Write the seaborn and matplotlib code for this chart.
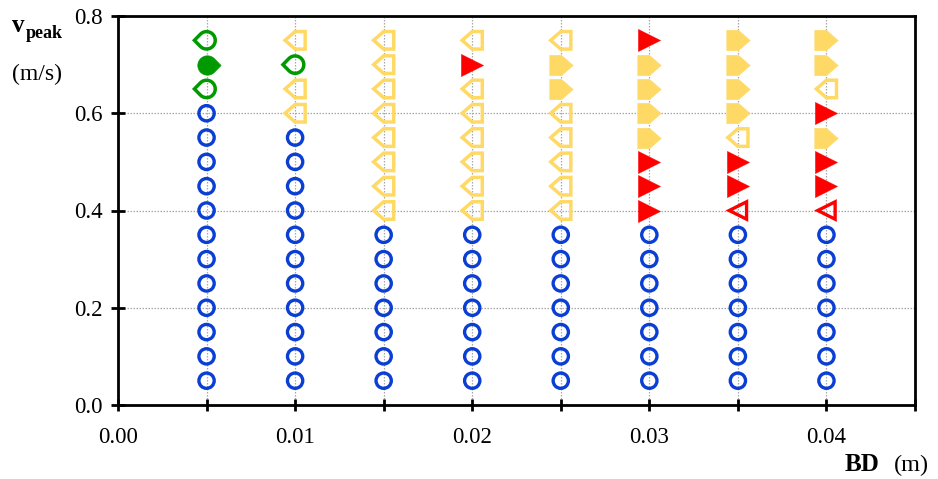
import numpy as np
import pandas as pd
import matplotlib
matplotlib.use("Agg")
import matplotlib.pyplot as plt
from matplotlib.path import Path
import seaborn as sns

# ---- data -----------------------------------------------------------------
bd_values = [0.005, 0.010, 0.015, 0.020, 0.025, 0.030, 0.035, 0.040]
vpeak_values = [0.05, 0.10, 0.15, 0.20, 0.25, 0.30, 0.35, 0.40,
                0.45, 0.50, 0.55, 0.60, 0.65, 0.70, 0.75]

# response class for each v_peak (bottom -> top), one string per BD column
#   o: blue ring, g/G: green open/filled drop, y/Y: yellow open/filled arrow,
#   r/R: red open/filled triangle
response_codes = [
    "oooooooooooogGg",
    "oooooooooooyygy",
    "oooooooyyyyyyyy",
    "oooooooyyyyyyRy",
    "oooooooyyyyyYYy",
    "oooooooRRRYYYYR",
    "ooooooorRRyYYYY",
    "ooooooorRRYRyYY",
]

x_ticks = [0.000, 0.005, 0.010, 0.015, 0.020, 0.025, 0.030, 0.035, 0.040, 0.045]
x_tick_labels = ["0.00", "", "0.01", "", "0.02", "", "0.03", "", "0.04", ""]
y_ticks = [0.0, 0.2, 0.4, 0.6, 0.8]
y_tick_labels = ["0.0", "0.2", "0.4", "0.6", "0.8"]

# ---- marker shapes ---------------------------------------------------------
def drop_path(direction):
    """Circle with a pointed tip; direction -1 points left, +1 right."""
    d = 1.4
    a = np.arccos(1.0 / d)
    ang = np.linspace(np.pi - a, -(np.pi - a), 80)
    pts = [(-d, 0.0)] + list(zip(np.cos(ang), np.sin(ang))) + [(-d, 0.0)]
    pts = np.array(pts)
    pts[:, 0] *= -direction
    codes = [Path.MOVETO] + [Path.LINETO] * (len(pts) - 2) + [Path.CLOSEPOLY]
    return Path(pts, codes)


def arrow_path(direction):
    """Square body with a triangular nose; direction -1 points left."""
    h = 0.87
    pts = np.array([(1, h), (0, h), (-1, 0), (0, -h), (1, -h), (1, h)], float)
    pts[:, 0] *= -direction
    codes = [Path.MOVETO] + [Path.LINETO] * 4 + [Path.CLOSEPOLY]
    return Path(pts, codes)


BLUE = "#0b3fd4"
GREEN = "#009a00"
YELLOW = "#ffd966"
RED = "#ff0000"

styles = {
    "o": dict(marker="o", size=11.0, color=BLUE, filled=False, lw=2.4),
    "g": dict(marker=drop_path(-1), size=17.5, color=GREEN, filled=False, lw=2.5),
    "G": dict(marker=drop_path(+1), size=19.5, color=GREEN, filled=True, lw=0.5),
    "y": dict(marker=arrow_path(-1), size=14.5, color=YELLOW, filled=False, lw=2.5),
    "Y": dict(marker=arrow_path(+1), size=17.0, color=YELLOW, filled=True, lw=0.3),
    "r": dict(marker="<", size=12.5, color=RED, filled=False, lw=2.4),
    "R": dict(marker=">", size=16.0, color=RED, filled=True, lw=0.3),
}

rows = []
for bd, codes in zip(bd_values, response_codes):
    for v, c in zip(vpeak_values, codes):
        rows.append({"BD": bd, "vpeak": v, "response": c})
df = pd.DataFrame(rows)

# ---- figure ----------------------------------------------------------------
sns.set_style("white")
plt.rcParams["font.family"] = ["Liberation Serif", "DejaVu Serif"]
plt.rcParams["text.color"] = "black"
plt.rcParams["axes.labelcolor"] = "black"
plt.rcParams["xtick.color"] = "black"
plt.rcParams["ytick.color"] = "black"

W, H = 938, 479
fig = plt.figure(figsize=(W / 100, H / 100), dpi=100)
ax = fig.add_axes([118 / W, 1 - 405 / H, (915 - 118) / W, (405 - 16) / H])

for code, st in styles.items():
    sub = df[df["response"] == code]
    if sub.empty:
        continue
    kws = dict(marker=st["marker"], s=st["size"] ** 2, color=st["color"],
               edgecolor=st["color"], linewidth=st["lw"], zorder=3,
               joinstyle="miter", legend=False)
    if not st["filled"]:
        kws["facecolor"] = "none"
    sns.scatterplot(data=sub, x="BD", y="vpeak", ax=ax, **kws)

ax.set_xlim(0, 0.045)
ax.set_ylim(0, 0.8)
ax.set_xticks(x_ticks)
ax.set_xticklabels(x_tick_labels)
ax.set_yticks(y_ticks)
ax.set_yticklabels(y_tick_labels)
ax.set_xlabel("")
ax.set_ylabel("")

ax.set_axisbelow(True)
ax.grid(True, color="#a8a8a8", linestyle=(0, (1.2, 1.2)), linewidth=0.9)

for side in ["left", "bottom", "right", "top"]:
    ax.spines[side].set_visible(True)
    ax.spines[side].set_color("black")
    ax.spines[side].set_linewidth(2.0)

ax.tick_params(axis="x", bottom=True, top=False, direction="inout", length=8,
               width=2.0, labelsize=16.5, pad=12, colors="black")
ax.tick_params(axis="y", left=True, right=False, direction="inout", length=10,
               width=2.0, labelsize=16.5, pad=6, colors="black")

# axis titles
fig.text(12 / W, 1 - 32 / H, "v", fontsize=18, fontweight="bold",
         va="baseline", ha="left", color="black")
fig.text(26 / W, 1 - 38 / H, "peak", fontsize=13, fontweight="bold",
         va="baseline", ha="left", color="black")
fig.text(12 / W, 1 - 74 / H, "(m/s)", fontsize=17, va="center", ha="left",
         color="black")
fig.text(845 / W, 1 - 471 / H, "BD", fontsize=18, fontweight="bold",
         va="baseline", ha="left", color="black")
fig.text(894 / W, 1 - 471 / H, "(m)", fontsize=17.5, va="baseline", ha="left",
         color="black")

fig.savefig("out.png", dpi=100)
